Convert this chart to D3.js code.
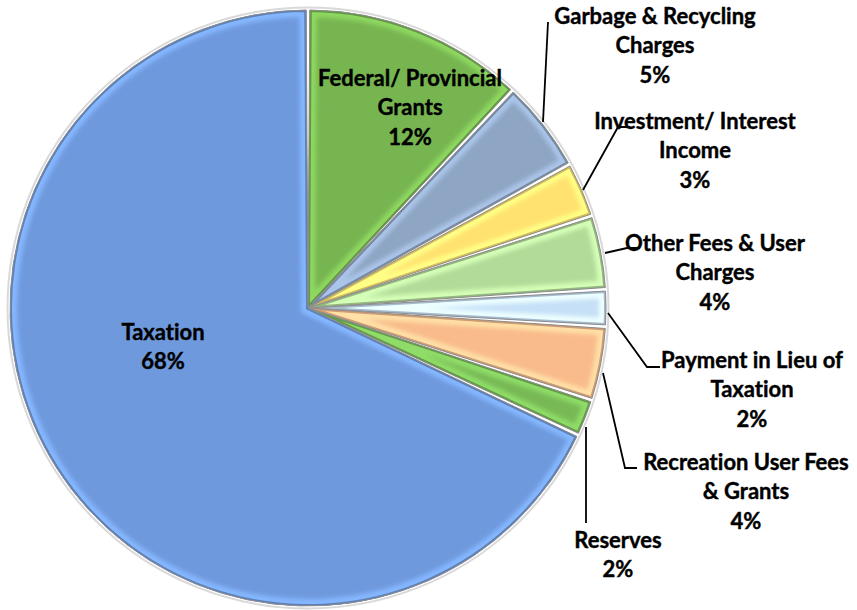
<!DOCTYPE html>
<html>
<head>
<meta charset="utf-8">
<script src="https://cdn.jsdelivr.net/npm/d3@7"></script>
<style>
  body { margin: 0; background: #fff; }
  svg { display: block; }
  .lbl { font-family: Lato, "Open Sans", sans-serif; font-weight: bold; font-size: 22px; fill: #000;
         font-variant-ligatures: none; stroke: #000; stroke-width: 0.4px; }
  .leader { fill: none; stroke: #000; stroke-width: 1.8; }
</style>
</head>
<body>
<svg id="chart" width="857" height="610"></svg>
<script>
// revenue sources, clockwise from 12 o'clock
const categories = ["Federal/ Provincial Grants", "Garbage & Recycling Charges", "Investment/ Interest Income",
                    "Other Fees & User Charges", "Payment in Lieu of Taxation", "Recreation User Fees & Grants",
                    "Reserves", "Taxation"];
const shares = [12, 5, 3, 4, 2, 4, 2, 68];
const colors = ["#77b551", "#8ea5c3", "#ffe270", "#b2db99", "#c6e0f7", "#f9bb8b", "#78b956", "#6f99dd"];
// label text, split into lines as in the original
const labelLines = [
  ["Federal/ Provincial", "Grants", "12%"],
  ["Garbage & Recycling", "Charges", "5%"],
  ["Investment/ Interest", "Income", "3%"],
  ["Other Fees & User", "Charges", "4%"],
  ["Payment in Lieu of", "Taxation", "2%"],
  ["Recreation User Fees", "& Grants", "4%"],
  ["Reserves", "2%"],
  ["Taxation", "68%"]
];
// label anchor (centre of first line) and leader elbows
const labelPos = [[410, 78], [655, 16], [695, 121], [715, 243], [752, 360], [746, 462], [618, 540], [163, 332]];
const leaders = [
  null,
  [[543, 122], [548, 22]],
  [[583, 190], [618, 127], [630, 127]],
  [[605, 253], [627, 248], [640, 248]],
  [[608, 313], [647, 367], [660, 367]],
  [[603, 373], [625, 468], [637, 468]],
  [[586, 427], [586, 523]],
  null
];

const cx = 308, cy = 308, R = 298;
const svg = d3.select("#chart");
const defs = svg.append("defs");

const pie = d3.pie().sort(null).value(d => d)(shares);
const arc = d3.arc().innerRadius(0).outerRadius(R).padAngle(0.012);
const g = svg.append("g").attr("transform", `translate(${cx},${cy})`);

defs.append("filter").attr("id", "soft")
  .append("feGaussianBlur").attr("stdDeviation", 2.2);

// outer rim
g.append("circle").attr("r", R + 2.5).attr("fill", "none").attr("stroke", "#d9d9d9").attr("stroke-width", 2);

pie.forEach((p, i) => {
  const path = arc(p);
  const c = colors[i];
  defs.append("clipPath").attr("id", "clip" + i).append("path").attr("d", path);
  const s = g.append("g");
  s.append("path").attr("d", path).attr("fill", c);
  // bevel: light band along the inside of the edges
  s.append("path").attr("d", path)
    .attr("clip-path", `url(#clip${i})`)
    .attr("fill", "none")
    .attr("stroke", d3.color(c).brighter(0.5))
    .attr("stroke-width", 14)
    .attr("filter", "url(#soft)");
  s.append("path").attr("d", path)
    .attr("clip-path", `url(#clip${i})`)
    .attr("fill", "none")
    .attr("stroke", d3.color(c).darker(0.5))
    .attr("stroke-width", 4);
  s.append("path").attr("d", path)
    .attr("fill", "none")
    .attr("stroke", "#8c8c8c")
    .attr("stroke-width", 1);
});

// leader lines
const line = d3.line();
leaders.forEach(l => {
  if (l) svg.append("path").attr("class", "leader").attr("d", line(l));
});

// labels
labelLines.forEach((lines, i) => {
  const t = svg.append("text").attr("class", "lbl")
    .attr("text-anchor", "middle")
    .attr("x", labelPos[i][0]).attr("y", labelPos[i][1]);
  lines.forEach((s, j) => {
    t.append("tspan").attr("x", labelPos[i][0]).attr("y", labelPos[i][1] + j * 29.5)
      .attr("dy", "0.35em").text(s);
  });
});
</script>
</body>
</html>
